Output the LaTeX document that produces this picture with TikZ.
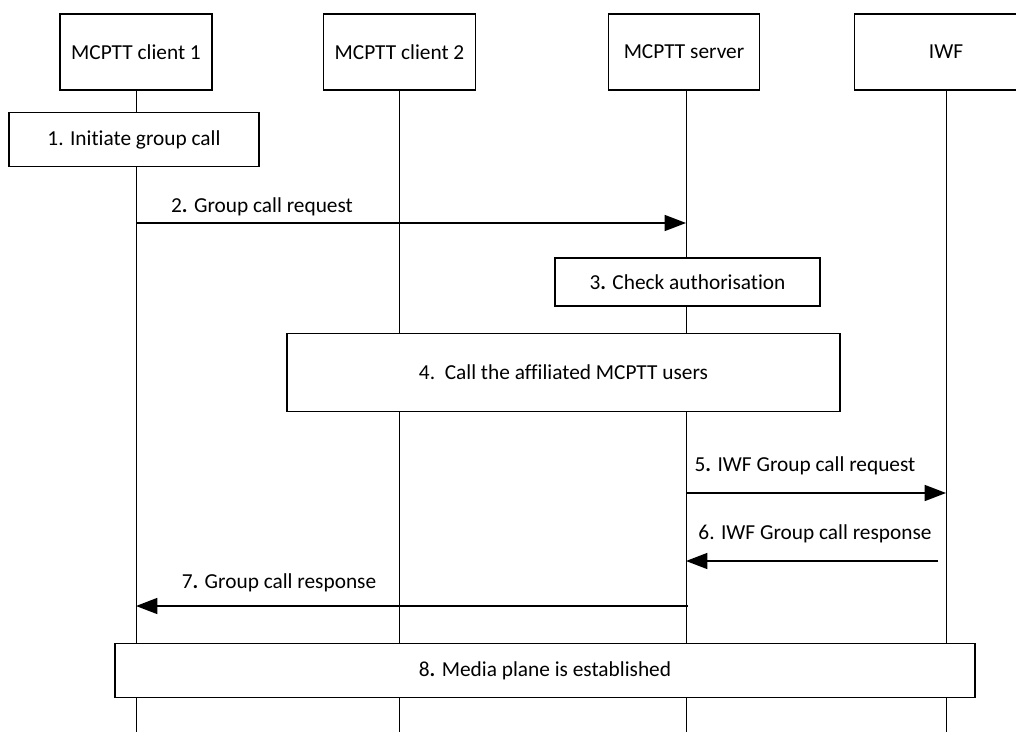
\documentclass[tikz,border=0pt]{standalone}
\usepackage{fontspec}
\setmainfont{Carlito}[Ligatures=NoCommon]
\usetikzlibrary{arrows.meta}
\tikzset{
  hdr/.style={draw, line width=0.9pt, fill=white, minimum height=57pt, inner sep=0pt},
  stepbox/.style={draw, line width=0.9pt, fill=white, inner sep=0pt},
  life/.style={line width=0.75pt},
  msg/.style={line width=1.1pt, -{Triangle[length=16pt,width=12pt]}},
  lbl/.style={inner sep=0pt},
}
\newcommand{\bd}{\textbf{.}}
\begin{document}
\begin{tikzpicture}[x=0.75pt,y=-0.75pt, font=\fontsize{16}{19}\selectfont]
\useasboundingbox (0,0) rectangle (1016,731);
% headers
\node[hdr, minimum width=114pt] (c1) at (136,52) {MCPTT client 1};
\node[hdr, minimum width=114pt] (c2) at (399.5,52) {MCPTT client 2};
\node[hdr, minimum width=113pt] (srv) at (684,52) {MCPTT server};
\node[hdr, minimum width=137pt] (iwf) at (946,52) {IWF};
\coordinate (bot) at (0,740);
% lifelines
\draw[life] (c1.south) -- (c1.south |- bot);
\draw[life] (c2.south) -- (c2.south |- bot);
\draw[life] ([xshift=1.5pt]srv.south) -- ([xshift=1.5pt]srv.south |- bot);
\draw[life] (iwf.south) -- (iwf.south |- bot);
% steps
\node[stepbox, minimum width=187.5pt, minimum height=40pt] (s1) at (134,139.5) {1. Initiate group call};
\node[stepbox, minimum width=198.75pt, minimum height=36pt] (s3) at (687.5,282) {3\bd{} Check authorisation};
\node[stepbox, minimum width=414.75pt, minimum height=59pt] (s4) at (563.5,372.5) {4.\ \ Call the affiliated MCPTT users};
\node[stepbox, minimum width=645pt, minimum height=40pt] (s8) at (545,670.5) {8\bd{} Media plane is established};
% message rows
\coordinate (m2) at (0,223);
\coordinate (m5) at (0,493);
\coordinate (m6) at (0,561);
\coordinate (m7) at (0,606);
\draw[msg] (c1.south |- m2) -- ([xshift=1.5pt]srv.south |- m2);
\draw[msg] ([xshift=1.5pt]srv.south |- m5) -- (iwf.south |- m5);
\draw[msg] ([xshift=-6pt]iwf.south |- m6) -- ([xshift=1.5pt]srv.south |- m6);
\draw[msg] ([xshift=3pt]srv.south |- m7) -- (c1.south |- m7);
% labels
\node[lbl] (l2) at (262,207) {2\bd{} Group call request};
\node[lbl] (l5) at (805,466) {5\bd{} IWF Group call request};
\node[lbl] (l6) at (815,534) {6. IWF Group call response};
\node[lbl] (l7) at (279,583) {7\bd{} Group call response};
\end{tikzpicture}
\end{document}
